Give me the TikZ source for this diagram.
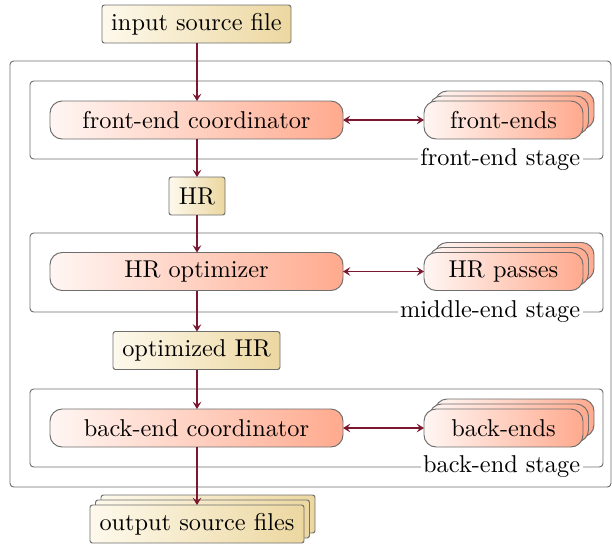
\documentclass[tikz,border=0pt]{standalone}
\usetikzlibrary{arrows.meta}
\newcommand\pxu{0.411pt}
\definecolor{tanlight}{RGB}{253,249,236}
\definecolor{tandark}{RGB}{236,215,160}
\definecolor{salmonlight}{RGB}{255,246,243}
\definecolor{salmondark}{RGB}{255,170,142}
\definecolor{flowred}{RGB}{122,24,48}
\definecolor{framegray}{RGB}{110,110,110}
\tikzset{
  databox/.style={draw=framegray, line width=0.4pt, rounded corners=1pt,
    left color=tanlight, right color=tandark, inner sep=0pt, outer sep=0pt,
    minimum height=38*\pxu},
  procbox/.style={draw=framegray, line width=0.4pt, rounded corners=5pt,
    left color=salmonlight, right color=salmondark, inner sep=0pt, outer sep=0pt,
    minimum height=38*\pxu},
  stageframe/.style={draw=framegray, line width=0.4pt, rounded corners=1.5pt},
  stagelabel/.style={fill=white, inner sep=1pt, anchor=east},
  flow/.style={draw=flowred, line width=0.5pt,
    -{Stealth[length=3pt,width=3.6pt,inset=1.2pt]}},
  biflow/.style={draw=flowred, line width=0.5pt,
    {Stealth[length=3pt,width=3.6pt,inset=1.2pt]}-{Stealth[length=3pt,width=3.6pt,inset=1.2pt]}},
}
\begin{document}
\begin{tikzpicture}[x=\pxu, y=-\pxu]
\useasboundingbox (0,0) rectangle (612,543);

% outer frame around the three stages
\draw[stageframe] (10,61) rectangle (611,487);

% input
\node[databox, minimum width=189*\pxu] (in) at (196.5,24) {input source file};

% front-end stage
\draw[stageframe] (30,81) rectangle (603,159);
\node[stagelabel] (felabel) at (583,159) {front-end stage};
\node[procbox, minimum width=293*\pxu] (fec) at (196.5,120) {front-end coordinator};
\node[procbox, minimum width=159*\pxu] (fe3) at (514.5,110) {};
\node[procbox, minimum width=159*\pxu] (fe2) at (509,115) {};
\node[procbox, minimum width=159*\pxu] (fe) at (503.5,120) {front-ends};

% HR
\node[databox, minimum width=56*\pxu] (hr) at (197,196) {HR};

% middle-end stage
\draw[stageframe] (30,233) rectangle (603,312);
\node[stagelabel] (melabel) at (583,312) {middle-end stage};
\node[procbox, minimum width=293*\pxu] (hro) at (196.5,271.5) {HR optimizer};
\node[procbox, minimum width=159*\pxu] (hrp3) at (514.5,261.5) {};
\node[procbox, minimum width=159*\pxu] (hrp2) at (509,266.5) {};
\node[procbox, minimum width=159*\pxu] (hrp) at (503.5,271.5) {HR passes};

% optimized HR
\node[databox, minimum width=167*\pxu] (ohr) at (196.5,350.5) {optimized HR};

% back-end stage
\draw[stageframe] (30,389) rectangle (603,467);
\node[stagelabel] (belabel) at (583,467) {back-end stage};
\node[procbox, minimum width=293*\pxu] (bec) at (196.5,428) {back-end coordinator};
\node[procbox, minimum width=159*\pxu] (be3) at (514.5,418) {};
\node[procbox, minimum width=159*\pxu] (be2) at (509,423) {};
\node[procbox, minimum width=159*\pxu] (be) at (503.5,428) {back-ends};

% output
\node[databox, minimum width=214*\pxu] (out3) at (208,514) {};
\node[databox, minimum width=214*\pxu] (out2) at (202.5,519) {};
\node[databox, minimum width=214*\pxu] (out) at (197,524) {output source files};

% connectors
\draw[flow] (in.south -| 197,0) -- (fec.north -| 197,0);
\draw[flow] (fec.south -| 197,0) -- (hr.north);
\draw[flow] (hr.south) -- (hro.north -| 197,0);
\draw[flow] (hro.south -| 197,0) -- (ohr.north -| 197,0);
\draw[flow] (ohr.south -| 197,0) -- (bec.north -| 197,0);
\draw[flow] (bec.south -| 197,0) -- (out.north);
\draw[biflow] (fec.east) -- (fe.west);
\draw[biflow] (hro.east) -- (hrp.west);
\draw[biflow] (bec.east) -- (be.west);
\end{tikzpicture}
\end{document}
